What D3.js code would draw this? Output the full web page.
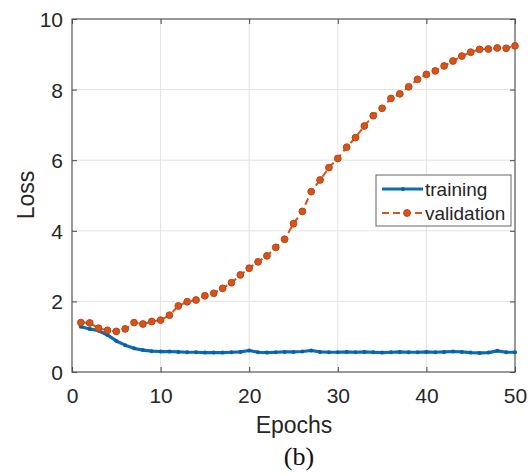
<!DOCTYPE html>
<html>
<head>
<meta charset="utf-8">
<script src="https://cdn.jsdelivr.net/npm/d3@7"></script>
<style>
  html, body { margin: 0; padding: 0; background: #fff; }
  svg { display: block; }
</style>
</head>
<body>
<div id="chart"></div>
<script>
// Loss per epoch
const epochs = d3.range(1, 51);
const trainingLoss = [
    1.28, 1.22, 1.17, 1.05, 0.88, 0.76, 0.67, 0.62, 0.59, 0.58,
    0.58, 0.57, 0.56, 0.56, 0.55, 0.55, 0.55, 0.56, 0.57, 0.61,
    0.56, 0.55, 0.56, 0.57, 0.57, 0.58, 0.61, 0.57, 0.56, 0.56,
    0.57, 0.56, 0.57, 0.56, 0.55, 0.56, 0.57, 0.56, 0.56, 0.57,
    0.56, 0.57, 0.58, 0.57, 0.55, 0.54, 0.55, 0.60, 0.56, 0.56
];
const validationLoss = [
    1.40, 1.39, 1.24, 1.18, 1.15, 1.22, 1.40, 1.36, 1.43, 1.47,
    1.61, 1.87, 1.99, 2.04, 2.16, 2.23, 2.37, 2.53, 2.75, 2.94,
    3.12, 3.29, 3.53, 3.76, 4.20, 4.55, 5.11, 5.44, 5.79, 6.05,
    6.37, 6.64, 6.97, 7.26, 7.47, 7.75, 7.88, 8.08, 8.29, 8.43,
    8.53, 8.67, 8.81, 8.95, 9.06, 9.14, 9.15, 9.18, 9.17, 9.24
];
const xTicks = [0, 10, 20, 30, 40, 50];
const yTicks = [0, 2, 4, 6, 8, 10];
const legendLabels = ['training', 'validation'];

const W = 529, H = 475;
const margin = { top: 19, right: 14, bottom: 103, left: 72 };
const width = W - margin.left - margin.right;
const height = H - margin.top - margin.bottom;

const blue = '#0a6db5';
const orange = '#d95319';
const sans = '"Liberation Sans", Arial, sans-serif';

const svg = d3.select('#chart').append('svg')
    .attr('width', W)
    .attr('height', H);

const g = svg.append('g')
    .attr('transform', `translate(${margin.left},${margin.top})`);

const x = d3.scaleLinear().domain([0, 50]).range([0, width]);
const y = d3.scaleLinear().domain([0, 10]).range([height, 0]);

// grid
g.append('g').selectAll('line.gx')
    .data(xTicks.slice(1, -1))
    .join('line')
    .attr('x1', d => x(d)).attr('x2', d => x(d))
    .attr('y1', 0).attr('y2', height)
    .attr('stroke', '#e3e3e3').attr('stroke-width', 1);
g.append('g').selectAll('line.gy')
    .data(yTicks.slice(1, -1))
    .join('line')
    .attr('x1', 0).attr('x2', width)
    .attr('y1', d => y(d)).attr('y2', d => y(d))
    .attr('stroke', '#e3e3e3').attr('stroke-width', 1);

// axes (ticks inside, box on all sides)
const styleAxis = sel => {
    sel.select('.domain').remove();
    sel.selectAll('.tick line').attr('stroke', '#444');
    sel.selectAll('.tick text')
        .attr('font-family', sans)
        .attr('font-size', '21px')
        .attr('fill', '#262626');
};
g.append('g')
    .attr('transform', `translate(0,${height})`)
    .call(d3.axisBottom(x).tickValues(xTicks).tickSize(-5).tickPadding(16))
    .call(styleAxis);
g.append('g')
    .call(d3.axisLeft(y).tickValues(yTicks).tickSize(-5).tickPadding(9))
    .call(styleAxis)
    .selectAll('.tick text').attr('dy', '0.36em');
g.append('g')
    .call(d3.axisTop(x).tickValues(xTicks).tickSize(-5).tickFormat(''))
    .call(styleAxis);
g.append('g')
    .attr('transform', `translate(${width},0)`)
    .call(d3.axisRight(y).tickValues(yTicks).tickSize(-5).tickFormat(''))
    .call(styleAxis);

g.append('rect')
    .attr('width', width).attr('height', height)
    .attr('fill', 'none')
    .attr('stroke', '#555').attr('stroke-width', 1.2);

// lines
const line = d3.line()
    .x((d, i) => x(epochs[i]))
    .y(d => y(d));

g.append('path')
    .datum(trainingLoss)
    .attr('fill', 'none')
    .attr('stroke', blue)
    .attr('stroke-width', 3.2)
    .attr('stroke-linejoin', 'round')
    .attr('d', line);
g.append('g').selectAll('circle')
    .data(trainingLoss)
    .join('circle')
    .attr('cx', (d, i) => x(epochs[i]))
    .attr('cy', d => y(d))
    .attr('r', 2)
    .attr('fill', '#0b5f9e');

g.append('path')
    .datum(validationLoss)
    .attr('fill', 'none')
    .attr('stroke', orange)
    .attr('stroke-width', 2)
    .attr('stroke-dasharray', '7,4')
    .attr('d', line);
g.append('g').selectAll('circle')
    .data(validationLoss)
    .join('circle')
    .attr('cx', (d, i) => x(epochs[i]))
    .attr('cy', d => y(d))
    .attr('r', 3.4)
    .attr('fill', orange)
    .attr('stroke', '#b8461a')
    .attr('stroke-width', 1);

// axis labels
svg.append('text')
    .attr('transform', 'translate(34,195) rotate(-90)')
    .attr('text-anchor', 'middle')
    .attr('font-family', sans)
    .attr('font-size', '23px')
    .attr('fill', '#262626')
    .text('Loss');
svg.append('text')
    .attr('x', 294).attr('y', 433)
    .attr('text-anchor', 'middle')
    .attr('font-family', sans)
    .attr('font-size', '23px')
    .attr('fill', '#262626')
    .text('Epochs');
svg.append('text')
    .attr('x', 299).attr('y', 465)
    .attr('text-anchor', 'middle')
    .attr('font-family', '"Liberation Serif", "Times New Roman", serif')
    .attr('font-size', '26px')
    .attr('fill', '#111')
    .text('(b)');

// legend
const lg = svg.append('g').attr('transform', 'translate(376,175)');
lg.append('rect')
    .attr('width', 135).attr('height', 51)
    .attr('fill', '#fff')
    .attr('stroke', '#666').attr('stroke-width', 1);
lg.append('line')
    .attr('x1', 6).attr('x2', 47).attr('y1', 14).attr('y2', 14)
    .attr('stroke', blue).attr('stroke-width', 3.2);
lg.append('circle')
    .attr('cx', 27).attr('cy', 14).attr('r', 2).attr('fill', '#0b5f9e');
lg.append('line')
    .attr('x1', 6).attr('x2', 47).attr('y1', 38).attr('y2', 38)
    .attr('stroke', orange).attr('stroke-width', 2)
    .attr('stroke-dasharray', '7,4');
lg.append('circle')
    .attr('cx', 31).attr('cy', 38).attr('r', 3.4)
    .attr('fill', orange).attr('stroke', '#b8461a');
lg.selectAll('text.lab')
    .data(legendLabels)
    .join('text')
    .attr('x', 49)
    .attr('y', (d, i) => 14 + i * 24)
    .attr('dy', '0.35em')
    .attr('font-family', sans)
    .attr('font-size', '19px')
    .attr('fill', '#262626')
    .text(d => d);
</script>
</body>
</html>
